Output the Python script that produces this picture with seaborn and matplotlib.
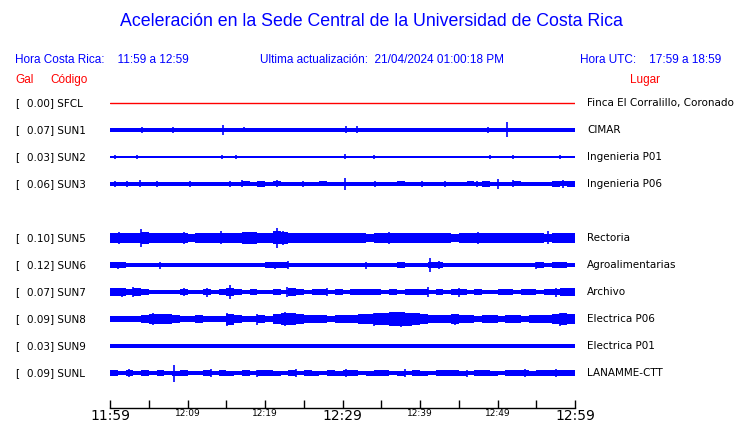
import numpy as np
import pandas as pd
import matplotlib
matplotlib.use("Agg")
import matplotlib.pyplot as plt
import seaborn as sns

# Station data (codes, peak Gal, locations)
codes = ["SFCL", "SUN1", "SUN2", "SUN3", None, "SUN5", "SUN6", "SUN7", "SUN8", "SUN9", "SUNL"]
gal = [0.00, 0.07, 0.03, 0.06, None, 0.10, 0.12, 0.07, 0.09, 0.03, 0.09]
places = ["Finca El Corralillo, Coronado", "CIMAR", "Ingenieria P01", "Ingenieria P06", None,
          "Rectoria", "Agroalimentarias", "Archivo", "Electrica P06", "Electrica P01", "LANAMME-CTT"]

# Steady background band half-width per station (arbitrary units)
core = {"SUN1": 1.7, "SUN2": 0.7, "SUN3": 1.5, "SUN5": 3.6, "SUN6": 1.5,
        "SUN7": 1.8, "SUN8": 2.6, "SUN9": 1.7, "SUNL": 2.0}

# Envelope half-amplitude per minute (arbitrary units)
env_sun1 = [1.9, 1.8, 1.7, 1.8, 2.0, 1.7, 1.8, 1.7, 1.9, 1.7, 1.7, 1.8, 1.7, 1.8, 2.0, 1.8, 1.7, 1.9, 1.8, 1.7,
            1.8, 1.7, 1.7, 1.8, 1.7, 1.7, 1.8, 1.7, 1.7, 1.8, 2.0, 1.8, 2.0, 1.7, 1.7, 1.7, 1.8, 1.7, 1.7, 1.7,
            1.8, 1.7, 1.7, 1.7, 1.8, 1.7, 1.8, 1.8, 2.2, 2.2, 2.0, 2.4, 2.0, 1.8, 1.9, 2.0, 1.8, 1.9, 2.0, 2.1]
env_sun2 = [1.3, 1.4, 1.1, 1.3, 1.2, 0.8, 0.7, 1.1, 0.7, 0.8, 0.7, 0.7, 0.8, 0.7, 0.9, 1.3, 1.4, 1.2, 1.4, 1.3,
            1.1, 1.4, 1.2, 1.0, 1.3, 0.9, 1.2, 1.0, 0.8, 0.9, 1.1, 1.0, 1.3, 1.4, 1.1, 1.3, 1.2, 1.0, 0.8, 0.7,
            0.9, 0.8, 1.3, 1.2, 1.0, 1.2, 0.9, 0.8, 1.3, 1.2, 0.9, 0.7, 1.0, 1.1, 1.0, 1.1, 1.3, 1.4, 1.2, 1.4]
env_sun3 = [1.9, 1.7, 2.2, 1.7, 2.2, 1.6, 1.6, 1.8, 2.0, 1.7, 1.6, 1.9, 1.6, 1.6, 1.7, 1.8, 2.0, 2.5, 2.3, 2.6,
            2.4, 2.5, 2.2, 2.1, 2.3, 2.2, 2.4, 2.5, 2.2, 2.3, 2.4, 2.4, 2.1, 2.4, 2.2, 2.3, 2.4, 2.5, 2.2, 2.4,
            2.1, 2.0, 1.9, 2.2, 2.0, 2.4, 2.5, 2.3, 2.6, 2.1, 2.0, 2.3, 2.5, 2.1, 2.4, 2.2, 2.4, 2.6, 2.5, 2.7]
env_sun5 = [5.0, 4.5, 5.2, 4.6, 6.0, 4.8, 4.5, 5.2, 4.6, 5.0, 4.4, 4.8, 5.5, 4.6, 5.0, 4.8, 5.2, 5.6, 5.8, 5.4,
            5.2, 6.5, 6.0, 5.5, 5.0, 4.8, 5.2, 4.6, 4.5, 5.0, 5.0, 4.8, 4.6, 4.4, 5.0, 4.8, 5.2, 5.0, 4.6, 4.8,
            5.0, 4.5, 4.8, 4.6, 4.4, 4.8, 5.0, 4.6, 4.8, 4.5, 5.2, 4.8, 4.5, 4.6, 5.0, 4.8, 4.4, 4.8, 5.0, 5.2]
env_sun6 = [2.6, 2.8, 1.8, 1.6, 2.1, 1.7, 2.2, 1.6, 2.4, 1.7, 2.1, 1.6, 2.2, 1.7, 1.8, 2.1, 1.6, 1.7, 2.2, 1.6,
            2.6, 3.0, 2.8, 2.4, 2.2, 1.8, 2.1, 1.7, 1.6, 1.8, 2.4, 1.7, 2.1, 1.6, 2.2, 2.0, 2.4, 2.6, 2.2, 1.8,
            2.4, 2.8, 2.6, 2.2, 1.8, 2.4, 1.7, 2.1, 1.6, 2.0, 2.2, 1.7, 2.1, 1.8, 2.4, 2.6, 2.2, 2.8, 2.6, 2.4]
env_sun7 = [3.6, 3.8, 3.4, 4.0, 3.4, 2.2, 1.9, 2.4, 2.0, 3.0, 2.4, 2.0, 2.7, 2.2, 3.2, 3.8, 2.6, 2.2, 2.9, 2.4,
            2.0, 3.0, 2.4, 3.6, 2.7, 2.2, 2.9, 2.6, 2.4, 3.0, 2.2, 2.7, 3.2, 2.9, 3.4, 2.4, 2.7, 2.2, 2.6, 3.0,
            2.6, 2.2, 2.7, 2.4, 2.9, 2.6, 2.2, 3.0, 2.4, 2.0, 2.7, 2.9, 2.2, 2.6, 3.0, 2.4, 3.2, 3.4, 3.6, 3.8]
env_sun8 = [3.0, 3.3, 3.0, 3.2, 4.5, 5.0, 4.6, 5.2, 4.0, 3.4, 3.2, 3.6, 3.4, 3.2, 3.4, 5.5, 3.6, 3.4, 3.2, 3.6,
            3.4, 4.6, 5.6, 6.0, 5.0, 3.8, 3.6, 4.0, 3.4, 3.6, 3.8, 4.2, 5.0, 5.4, 5.8, 6.2, 6.6, 6.8, 6.5, 5.8,
            5.0, 4.0, 3.6, 4.2, 4.8, 3.8, 3.6, 3.4, 4.0, 3.6, 3.4, 3.8, 3.6, 3.2, 3.8, 4.0, 4.2, 4.8, 5.6, 5.2]
env_sun9 = [2.0, 1.9, 1.8, 2.0, 1.8, 1.8, 1.9, 1.8, 1.8, 1.8, 1.8, 1.8, 1.9, 2.0, 1.8, 1.8, 1.8, 1.8, 1.8, 1.8,
            1.8, 1.8, 1.8, 1.8, 1.8, 1.8, 1.8, 1.8, 1.8, 1.8, 1.8, 1.8, 1.8, 1.8, 1.8, 1.8, 1.8, 1.8, 1.8, 1.8,
            1.8, 1.8, 1.8, 1.8, 1.8, 1.8, 1.8, 1.9, 1.8, 1.8, 1.8, 1.8, 1.8, 1.8, 1.8, 1.8, 1.8, 1.8, 1.8, 1.8]
env_sunl = [2.8, 2.4, 3.0, 2.2, 2.7, 2.4, 2.8, 2.2, 2.5, 2.8, 2.4, 2.2, 2.7, 2.4, 3.0, 2.5, 2.4, 2.7, 2.2, 3.2,
            2.7, 2.5, 2.4, 2.8, 2.2, 2.7, 2.5, 2.4, 2.8, 2.5, 2.7, 3.0, 2.4, 2.5, 2.7, 2.8, 2.4, 2.5, 2.2, 2.7,
            2.5, 2.4, 2.8, 2.7, 3.0, 2.5, 2.4, 2.7, 2.8, 2.5, 2.4, 2.7, 3.0, 2.8, 2.5, 3.0, 3.2, 2.8, 3.0, 2.7]

# Spikes: (minute, half amplitude)
spk_sun1 = [(4.1, 3), (8.1, 3), (14.6, 5), (17.3, 2.5), (30.5, 3.5), (31.9, 3.5), (48.8, 3), (51.2, 7.5)]
spk_sun2 = [(0.6, 2), (3.5, 2), (14.5, 2), (16.2, 1.8), (30.3, 2.5), (34, 1.8), (49, 2), (52, 2), (58, 2)]
spk_sun3 = [(0.6, 3), (2.2, 3), (3.9, 3.5), (6.1, 2.8), (10.3, 3), (15.5, 3), (17, 3.5), (21.5, 3.5), (24.9, 3),
            (30.3, 6), (34.2, 3), (40.3, 3), (43.2, 3), (47.4, 3), (50, 5), (52, 3.5), (58.5, 4)]
spk_sun5 = [(1.2, 6), (4.0, 9), (9.5, 6), (14.3, 6.5), (18.6, 6), (21.5, 10), (22.3, 7), (36, 6), (47.5, 6),
            (56.5, 6.5)]
spk_sun6 = [(1.0, 3.5), (6.5, 3.5), (21.3, 3.5), (23, 4), (33, 3.5), (41.3, 7), (42.5, 4), (55, 3.5)]
spk_sun7 = [(1.5, 4.5), (3, 5), (9.5, 4), (12.5, 4.5), (15.5, 7), (22.8, 5), (28, 4), (41, 5), (45, 4.5),
            (57.5, 4.5)]
spk_sun8 = [(5.5, 6), (15.1, 6.5), (19, 5.5), (22.6, 7), (34, 6.5), (37.5, 7.5), (44.5, 5.5), (58, 6.5)]
spk_sun9 = []
spk_sunl = [(2.5, 4), (8.3, 8.5), (13, 4), (19, 3.5), (24, 4), (30.5, 4), (38, 4), (46, 3.5), (53.5, 4),
            (57.5, 4)]

envs = {"SUN1": env_sun1, "SUN2": env_sun2, "SUN3": env_sun3, "SUN5": env_sun5, "SUN6": env_sun6,
        "SUN7": env_sun7, "SUN8": env_sun8, "SUN9": env_sun9, "SUNL": env_sunl}
spikes = {"SUN1": spk_sun1, "SUN2": spk_sun2, "SUN3": spk_sun3, "SUN5": spk_sun5, "SUN6": spk_sun6,
          "SUN7": spk_sun7, "SUN8": spk_sun8, "SUN9": spk_sun9, "SUNL": spk_sunl}

tick_labels = ["11:59", "12:09", "12:19", "12:29", "12:39", "12:49", "12:59"]

sns.set_style("white")
plt.rcParams['font.family'] = ['DejaVu Sans']
plt.rcParams['text.color'] = 'black'
plt.rcParams['xtick.color'] = 'black'

W, H = 740, 423
fig = plt.figure(figsize=(W / 100, H / 100), dpi=100)
row_px = 27.0
ax = fig.add_axes([110 / W, 1 - 408 / H, 465 / W, (408 - 90) / H])
ax.set_xlim(0, 60)
ax.set_ylim((408 - 103) / row_px, (90 - 103) / row_px)

blue = "#0000ff"
red = "#ff0000"
scale = 1 / row_px

# Reference station: flat line
flat = pd.DataFrame({"t": [0, 60], "y": [0, 0]})
sns.lineplot(data=flat, x="t", y="y", color=red, lw=1, ax=ax)

edges = np.arange(61)
for i, code in enumerate(codes):
    if code is None or code not in envs:
        continue
    c = core[code] * scale
    ax.fill_between([0, 60], i - c, i + c, color=blue, lw=0, antialiased=False)
    a = np.array(envs[code] + [envs[code][-1]]) * scale
    ax.fill_between(edges, i - a, i + a, step="post", color=blue, lw=0, antialiased=False)
    for t, amp in spikes[code]:
        ax.vlines(t, i - amp * scale, i + amp * scale, color=blue, lw=1.2)

# Axis styling
for s in ["top", "left", "right"]:
    ax.spines[s].set_visible(False)
ax.spines["bottom"].set_color("black")
ax.spines["bottom"].set_linewidth(1)
ax.set_yticks([])
ax.set_xlabel("")
ax.set_ylabel("")
ax.set_xticks(np.arange(0, 61, 5))
labels = []
for k in range(13):
    labels.append(tick_labels[k // 2] if k % 2 == 0 else "")
ax.set_xticklabels(labels)
ax.tick_params(axis="x", direction="in", length=6, width=1, color="black", labelcolor="black",
               pad=1, bottom=True)
for k, lab in enumerate(ax.get_xticklabels()):
    lab.set_fontsize(10 if k in (0, 6, 12) else 6.5)

# Header texts
hfont = ["Liberation Sans", "DejaVu Sans"]
def ptext(x, y, s, **kw):
    fig.text(x / W, 1 - y / H, s, **kw)

ptext(371, 22, "Aceleración en la Sede Central de la Universidad de Costa Rica", color=blue,
      fontsize=12.8, ha="center", va="center", family=hfont)
ptext(15, 60, "Hora Costa Rica:    11:59 a 12:59", color=blue, fontsize=8.5, va="center", family=hfont)
ptext(260, 60, "Ultima actualización:  21/04/2024 01:00:18 PM", color=blue, fontsize=8.5, va="center", family=hfont)
ptext(580, 60, "Hora UTC:    17:59 a 18:59", color=blue, fontsize=8.5, va="center", family=hfont)
ptext(15, 80, "Gal", color=red, fontsize=8.5, va="center", family=hfont)
ptext(50, 80, "Código", color=red, fontsize=8.5, va="center", family=hfont)
ptext(630, 80, "Lugar", color=red, fontsize=8.5, va="center", family=hfont)

# Station labels
for i, code in enumerate(codes):
    if code is None:
        continue
    y = 103 + i * row_px
    ptext(15, y, "[", fontsize=7.5, va="center", color="black")
    ptext(27, y, f"{gal[i]:.2f}] {code}", fontsize=7.5, va="center", color="black")
    ptext(587, y, places[i], fontsize=7.5, va="center", color="black")

fig.savefig("out.png", dpi=100)
